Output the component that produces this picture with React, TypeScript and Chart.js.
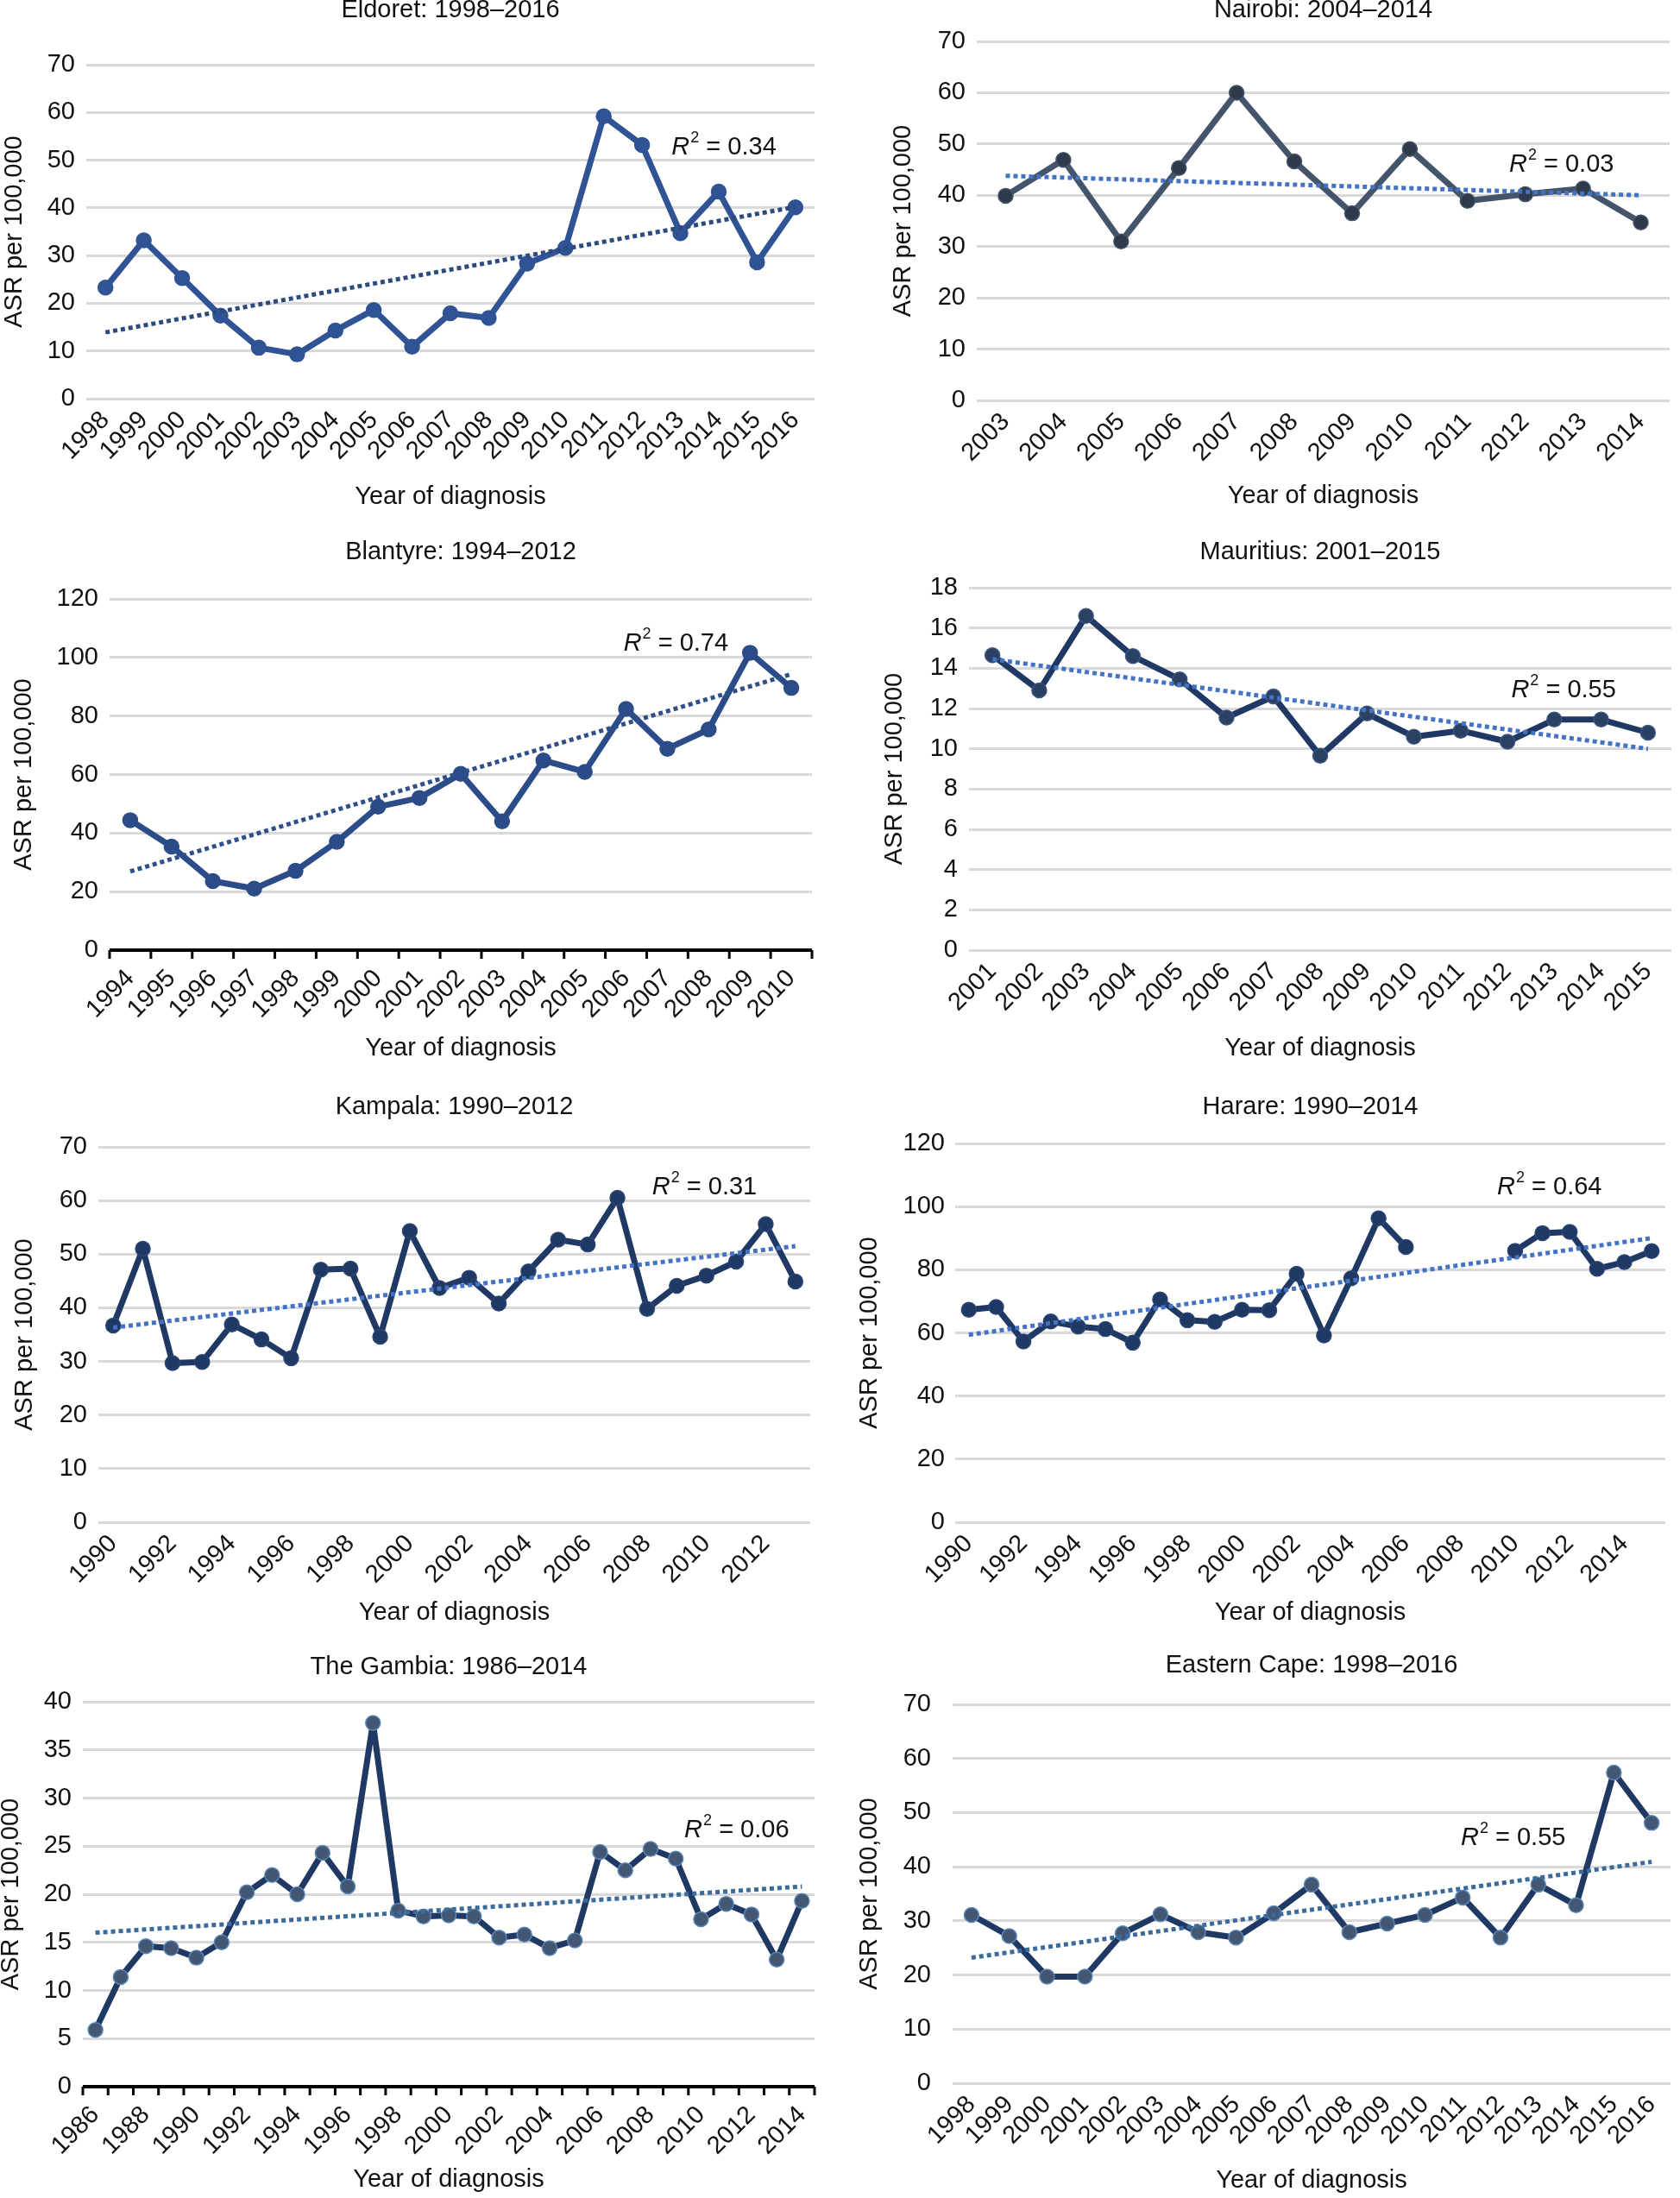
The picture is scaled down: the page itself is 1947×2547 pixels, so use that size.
import React, { useEffect, useRef } from "react";
import { Chart, registerables } from "chart.js";

Chart.register(...registerables);

const FF = "'Liberation Sans', Arial, Helvetica, sans-serif";

// ---------- data ----------
const eldoretYears = ["1998","1999","2000","2001","2002","2003","2004","2005","2006","2007","2008","2009","2010","2011","2012","2013","2014","2015","2016"];
const eldoretValues = [23.3, 33.2, 25.3, 17.4, 10.7, 9.3, 14.3, 18.6, 10.9, 17.9, 16.9, 28.3, 31.6, 59.2, 53.2, 34.7, 43.4, 28.6, 40.1];
const eldoretTrend = [13.9, 40.2];

const nairobiYears = ["2003","2004","2005","2006","2007","2008","2009","2010","2011","2012","2013","2014"];
const nairobiValues = [39.9, 46.9, 31.0, 45.3, 60.0, 46.6, 36.5, 49.0, 38.9, 40.2, 41.3, 34.7];
const nairobiTrend = [43.8, 40.0];

const blantyreYears = ["1994","1995","1996","1997","1998","1999","2000","2001","2002","2003","2004","2005","2006","2007","2008","2009","2010"];
const blantyreValues = [44.4, 35.4, 23.6, 21.0, 27.1, 37.0, 49.0, 52.0, 60.2, 44.0, 64.8, 60.9, 82.4, 68.8, 75.4, 101.6, 89.6];
const blantyreTrend = [26.9, 94.3];

const mauritiusYears = ["2001","2002","2003","2004","2005","2006","2007","2008","2009","2010","2011","2012","2013","2014","2015"];
const mauritiusValues = [14.65, 12.9, 16.6, 14.6, 13.45, 11.55, 12.6, 9.65, 11.75, 10.6, 10.9, 10.35, 11.45, 11.45, 10.8];
const mauritiusTrend = [14.45, 10.0];

const kampalaYears = ["1990","1991","1992","1993","1994","1995","1996","1997","1998","1999","2000","2001","2002","2003","2004","2005","2006","2007","2008","2009","2010","2011","2012","2013"];
const kampalaValues = [36.7, 51.0, 29.7, 29.9, 36.9, 34.1, 30.6, 47.1, 47.3, 34.6, 54.3, 43.7, 45.6, 40.8, 46.8, 52.7, 51.8, 60.5, 39.8, 44.1, 46.0, 48.6, 55.6, 44.9];
const kampalaTrend = [36.3, 51.5];

const harareYears = ["1990","1991","1992","1993","1994","1995","1996","1997","1998","1999","2000","2001","2002","2003","2004","2005","2006","2007","2008","2009","2010","2011","2012","2013","2014","2015"];
const harareValues = [67.3, 68.2, 57.3, 63.6, 62.0, 61.2, 56.9, 70.6, 64.0, 63.5, 67.3, 67.2, 78.7, 59.2, 77.3, 96.3, 87.2, null, null, null, 86.0, 91.6, 92.0, 80.3, 82.4, 85.9];
const harareTrend = [59.4, 90.0];

const gambiaYears = ["1986","1987","1988","1989","1990","1991","1992","1993","1994","1995","1996","1997","1998","1999","2000","2001","2002","2003","2004","2005","2006","2007","2008","2009","2010","2011","2012","2013","2014"];
const gambiaValues = [5.9, 11.4, 14.6, 14.4, 13.4, 15.0, 20.2, 22.0, 20.0, 24.3, 20.8, 37.8, 18.3, 17.7, 17.8, 17.7, 15.5, 15.8, 14.4, 15.2, 24.4, 22.5, 24.7, 23.7, 17.4, 19.0, 17.9, 13.2, 19.3];
const gambiaTrend = [16.0, 20.8];

const easternCapeYears = ["1998","1999","2000","2001","2002","2003","2004","2005","2006","2007","2008","2009","2010","2011","2012","2013","2014","2015","2016"];
const easternCapeValues = [31.1, 27.2, 19.7, 19.7, 27.7, 31.2, 27.9, 26.9, 31.4, 36.7, 27.9, 29.5, 31.1, 34.3, 26.9, 36.7, 32.9, 57.4, 48.1];
const easternCapeTrend = [23.2, 40.9];

const titles = [
  "Eldoret: 1998\u20132016",
  "Nairobi: 2004\u20132014",
  "Blantyre: 1994\u20132012",
  "Mauritius: 2001\u20132015",
  "Kampala: 1990\u20132012",
  "Harare: 1990\u20132014",
  "The Gambia: 1986\u20132014",
  "Eastern Cape: 1998\u20132016",
];
const r2Labels = ["0.34", "0.03", "0.74", "0.55", "0.31", "0.64", "0.06", "0.55"];
const yAxisMax = [70, 70, 120, 18, 70, 120, 40, 70];
const yAxisStep = [10, 10, 20, 2, 10, 20, 5, 10];

// ---------- styles / layout ----------
type Panel = {
  title: string;
  years: string[];
  values: (number | null)[];
  trend: number[];
  r2: string;
  yMax: number;
  yStep: number;
  canvas: [number, number, number, number];
  area: [number, number, number, number];
  titleY: number;
  yTitleX: number;
  xTitleY: number;
  yTickPad: number;
  r2Pos: [number, number];
  every2: boolean;
  axisLine: boolean;
  line: string;
  mFill: string;
  mBorder: string;
  trendColor: string;
};

const styleA = { line: "#2f5394", mFill: "#2f5394", mBorder: "#2f5394", trendColor: "#2c4a7e" };
const styleB = { line: "#44546a", mFill: "#2f3b4b", mBorder: "#44546a", trendColor: "#4472c4" };
const styleC = { line: "#2b4c88", mFill: "#2b4c88", mBorder: "#2b4c88", trendColor: "#2f4f88" };
const styleD = { line: "#1f3864", mFill: "#2b4163", mBorder: "#3b5580", trendColor: "#4472c4" };
const styleE = { line: "#1f3864", mFill: "#1f3864", mBorder: "#2a4675", trendColor: "#4472c4" };
const styleF = { line: "#1f3864", mFill: "#435773", mBorder: "#5a86b8", trendColor: "#3b6a9c" };

const panels: Panel[] = [
  { title: titles[0], years: eldoretYears, values: eldoretValues, trend: eldoretTrend, r2: r2Labels[0], yMax: yAxisMax[0], yStep: yAxisStep[0],
    canvas: [0, 0, 975, 620], area: [100, 75, 944, 462], titleY: 12, yTitleX: 17, xTitleY: 576, yTickPad: 13, r2Pos: [14.77, 52.6], every2: false, axisLine: false, ...styleA },
  { title: titles[1], years: nairobiYears, values: nairobiValues, trend: nairobiTrend, r2: r2Labels[1], yMax: yAxisMax[1], yStep: yAxisStep[1],
    canvas: [975, 0, 972, 620], area: [1132, 48, 1935, 464], titleY: 12, yTitleX: 1047, xTitleY: 575, yTickPad: 13, r2Pos: [8.72, 46], every2: false, axisLine: false, ...styleB },
  { title: titles[2], years: blantyreYears, values: blantyreValues, trend: blantyreTrend, r2: r2Labels[2], yMax: yAxisMax[2], yStep: yAxisStep[2],
    canvas: [0, 620, 975, 635], area: [127, 694, 941, 1101], titleY: 640, yTitleX: 28, xTitleY: 1215, yTickPad: 13, r2Pos: [11.94, 104.7], every2: false, axisLine: true, ...styleC },
  { title: titles[3], years: mauritiusYears, values: mauritiusValues, trend: mauritiusTrend, r2: r2Labels[3], yMax: yAxisMax[3], yStep: yAxisStep[3],
    canvas: [975, 620, 972, 635], area: [1123, 681, 1938, 1101], titleY: 640, yTitleX: 1037, xTitleY: 1215, yTickPad: 13, r2Pos: [11.08, 12.9], every2: false, axisLine: false, ...styleD },
  { title: titles[4], years: kampalaYears, values: kampalaValues, trend: kampalaTrend, r2: r2Labels[4], yMax: yAxisMax[4], yStep: yAxisStep[4],
    canvas: [0, 1255, 975, 645], area: [114, 1329, 939, 1764], titleY: 1283, yTitleX: 29, xTitleY: 1869, yTickPad: 13, r2Pos: [18.17, 62.5], every2: true, axisLine: false, ...styleE },
  { title: titles[5], years: harareYears, values: harareValues, trend: harareTrend, r2: r2Labels[5], yMax: yAxisMax[5], yStep: yAxisStep[5],
    canvas: [975, 1255, 972, 645], area: [1107, 1325, 1938, 1764], titleY: 1283, yTitleX: 1008, xTitleY: 1869, yTickPad: 12, r2Pos: [19.34, 106], every2: true, axisLine: false, ...styleE },
  { title: titles[6], years: gambiaYears, values: gambiaValues, trend: gambiaTrend, r2: r2Labels[6], yMax: yAxisMax[6], yStep: yAxisStep[6],
    canvas: [0, 1900, 975, 647], area: [96, 1972, 944, 2418], titleY: 1932, yTitleX: 13, xTitleY: 2526, yTickPad: 13, r2Pos: [23.34, 26.6], every2: true, axisLine: true, ...styleF },
  { title: titles[7], years: easternCapeYears, values: easternCapeValues, trend: easternCapeTrend, r2: r2Labels[7], yMax: yAxisMax[7], yStep: yAxisStep[7],
    canvas: [975, 1900, 972, 647], area: [1104, 1975, 1940, 2414], titleY: 1930, yTitleX: 1008, xTitleY: 2527, yTickPad: 25, r2Pos: [12.95, 45.3], every2: false, axisLine: false, ...styleF },
];

const TEXT = "#111111";
const TICK_SIZE = 29;
const TITLE_SIZE = 29;
const YTITLE_SIZE = 29;
const XTITLE_SIZE = 29;

function buildChart(canvas: HTMLCanvasElement, p: Panel): Chart {
  const [cx, cy, cw, ch] = p.canvas;
  const [L, T, R, B] = p.area;
  const n = p.years.length;
  const trendData = p.years.map((_, i) => (i === 0 ? p.trend[0] : i === n - 1 ? p.trend[1] : null));

  const textPlugin = {
    id: "panelText",
    afterDraw(chart: any) {
      const ctx = chart.ctx as CanvasRenderingContext2D;
      const area = chart.chartArea;
      ctx.save();
      // black category axis with tick marks (Blantyre, The Gambia)
      if (p.axisLine) {
        const xs = chart.scales.x;
        ctx.strokeStyle = "#000000";
        ctx.lineWidth = 4;
        ctx.beginPath();
        ctx.moveTo(area.left, area.bottom);
        ctx.lineTo(area.right, area.bottom);
        ctx.stroke();
        ctx.lineWidth = 3;
        ctx.beginPath();
        for (let i = 0; i <= n; i++) {
          const px = xs.getPixelForValue(i - 0.5);
          ctx.moveTo(px, area.bottom);
          ctx.lineTo(px, area.bottom + 10);
        }
        ctx.stroke();
      }
      // title
      ctx.fillStyle = TEXT;
      ctx.font = `${TITLE_SIZE}px ${FF}`;
      ctx.textAlign = "center";
      ctx.textBaseline = "middle";
      ctx.fillText(p.title, (area.left + area.right) / 2, p.titleY - cy);
      // R^2 label
      const xs = chart.scales.x;
      const ys = chart.scales.y;
      let x = xs.getPixelForValue(p.r2Pos[0]);
      const y = ys.getPixelForValue(p.r2Pos[1]);
      ctx.textAlign = "left";
      ctx.font = `italic 29px ${FF}`;
      ctx.fillText("R", x, y);
      x += ctx.measureText("R").width + 1;
      ctx.font = `18px ${FF}`;
      ctx.fillText("2", x, y - 11);
      x += ctx.measureText("2").width;
      ctx.font = `29px ${FF}`;
      ctx.fillText(" = " + p.r2, x, y);
      ctx.restore();
    },
  };

  return new Chart(canvas, {
    type: "line",
    data: {
      labels: p.years,
      datasets: [
        {
          label: "trend",
          data: trendData,
          borderColor: p.trendColor,
          borderWidth: 5,
          borderDash: [5, 4],
          pointRadius: 0,
          pointHoverRadius: 0,
          spanGaps: true,
          fill: false,
          tension: 0,
        },
        {
          label: "ASR",
          data: p.values,
          borderColor: p.line,
          borderWidth: 7,
          borderJoinStyle: "round",
          borderCapStyle: "round",
          pointRadius: 8.5,
          pointBackgroundColor: p.mFill,
          pointBorderColor: p.mBorder,
          pointBorderWidth: 1.5,
          spanGaps: false,
          fill: false,
          tension: 0,
        },
      ],
    },
    options: {
      animation: false,
      responsive: false,
      devicePixelRatio: 1,
      layout: { padding: { left: 0, top: T - cy, right: cx + cw - R, bottom: 0 } },
      plugins: { legend: { display: false }, tooltip: { enabled: false }, title: { display: false } },
      scales: {
        x: {
          type: "category",
          offset: true,
          grid: { display: false, drawTicks: false },
          border: { display: false },
          ticks: {
            autoSkip: false,
            maxRotation: 45,
            minRotation: 45,
            padding: p.axisLine ? 16 : 8,
            color: TEXT,
            font: { family: FF, size: TICK_SIZE },
            callback: (_v: any, i: number) => (p.every2 && i % 2 === 1 ? "" : p.years[i]),
          },
          title: {
            display: true,
            text: "Year of diagnosis",
            color: TEXT,
            font: { family: FF, size: XTITLE_SIZE, lineHeight: 1 },
            padding: { top: 0, bottom: cy + ch - p.xTitleY - XTITLE_SIZE / 2 },
          },
          afterFit: (s: any) => {
            s.height = cy + ch - B;
          },
        },
        y: {
          min: 0,
          max: p.yMax,
          grid: {
            color: (c: any) => (p.axisLine && c.tick && c.tick.value === 0 ? "rgba(0,0,0,0)" : "#d9d9d9"),
            lineWidth: 3,
            drawTicks: false,
          },
          border: { display: false },
          ticks: {
            stepSize: p.yStep,
            padding: p.yTickPad,
            color: TEXT,
            font: { family: FF, size: TICK_SIZE },
          },
          title: {
            display: true,
            text: "ASR per 100,000",
            color: TEXT,
            font: { family: FF, size: YTITLE_SIZE, lineHeight: 1 },
            padding: { top: p.yTitleX - cx - YTITLE_SIZE / 2, bottom: 0 },
          },
          afterFit: (s: any) => {
            s.width = L - cx;
          },
        },
      },
    } as any,
    plugins: [textPlugin],
  });
}

function PanelChart({ p }: { p: Panel }) {
  const ref = useRef<HTMLCanvasElement | null>(null);
  useEffect(() => {
    if (!ref.current) return;
    const chart = buildChart(ref.current, p);
    return () => chart.destroy();
  }, [p]);
  const [x, y, w, h] = p.canvas;
  return (
    <canvas
      ref={ref}
      width={w}
      height={h}
      style={{ position: "absolute", left: x, top: y, width: w, height: h }}
    />
  );
}

export default function App() {
  return (
    <div style={{ position: "absolute", left: 0, top: 0, width: 1947, height: 2547, background: "#ffffff", overflow: "hidden" }}>
      {panels.map((p, i) => (
        <PanelChart key={i} p={p} />
      ))}
    </div>
  );
}
